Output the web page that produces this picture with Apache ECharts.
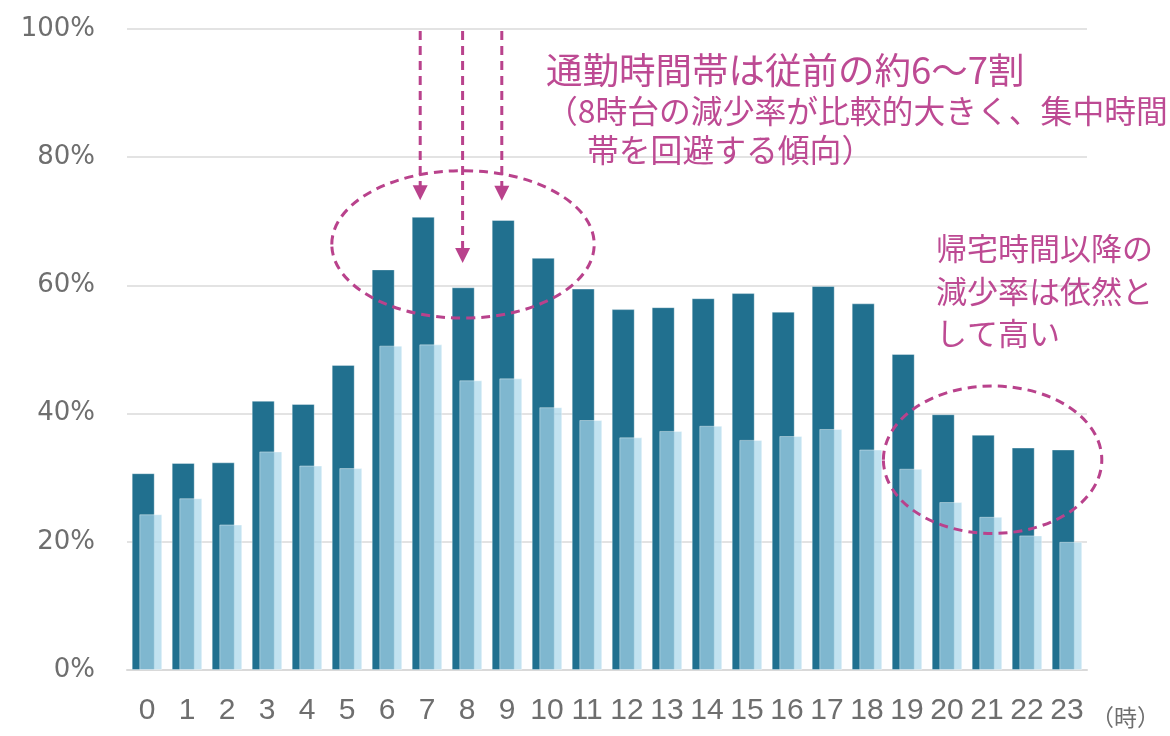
<!DOCTYPE html>
<html>
<head>
<meta charset="utf-8">
<script src="https://cdn.jsdelivr.net/npm/echarts@6/dist/echarts.min.js"></script>
<style>
  html, body { margin: 0; padding: 0; background: #fff; }
  #main { width: 1170px; height: 736px; }
</style>
</head>
<body>
<div id="main"></div>
<script>
var hours = ['0','1','2','3','4','5','6','7','8','9','10','11','12','13','14','15','16','17','18','19','20','21','22','23'];
var darkRate = [30.7, 32.3, 32.4, 42.0, 41.5, 47.6, 62.5, 70.7, 59.7, 70.2, 64.3, 59.5, 56.3, 56.6, 58.0, 58.8, 55.9, 59.9, 57.2, 49.3, 39.9, 36.7, 34.7, 34.4];
var lightRate = [24.3, 26.8, 22.7, 34.1, 31.9, 31.5, 50.6, 50.8, 45.2, 45.5, 41.0, 39.0, 36.3, 37.3, 38.1, 35.9, 36.5, 37.6, 34.4, 31.4, 26.2, 23.9, 21.0, 20.0];
var yTicks = [0, 20, 40, 60, 80, 100];

// annotation anchors (category index, value %)
var arrowCats = [6.83, 7.89, 8.87];
var arrowTips = [73.3, 63.5, 73.2];
var arrowStart = 99.7;

var pink = '#b9428c';
var textPink = '#bd4a93';
var jp = '"Noto Sans CJK JP", sans-serif';

var dom = document.getElementById('main');
var myChart = echarts.init(dom);

var option = {
    animation: false,
    grid: {
        left: 127,
        right: 83,
        top: 29,
        bottom: 66
    },
    xAxis: {
        type: 'category',
        data: hours,
        name: '（時）',
        nameLocation: 'end',
        nameGap: 4,
        nameTextStyle: {
            color: '#6e6e6e',
            fontSize: 23,
            fontFamily: jp,
            align: 'left',
            verticalAlign: 'top',
            padding: [36, 0, 0, 0]
        },
        axisTick: { show: false },
        axisLine: { lineStyle: { color: '#d9d9d9', width: 2 } },
        axisLabel: {
            interval: 0,
            margin: 26,
            color: '#6e6e6e',
            fontSize: 30,
            fontFamily: '"Liberation Sans Narrow", "Liberation Sans", sans-serif'
        }
    },
    yAxis: {
        type: 'value',
        min: yTicks[0],
        max: yTicks[yTicks.length - 1],
        interval: 20,
        axisLine: { show: false },
        axisTick: { show: false },
        splitLine: { lineStyle: { color: '#e3e3e3', width: 2 } },
        axisLabel: {
            formatter: '{value}%',
            margin: 32,
            color: '#6e6e6e',
            fontSize: 26,
            fontFamily: '"DejaVu Sans", sans-serif'
        }
    },
    series: [
        {
            name: 'dark',
            type: 'bar',
            data: darkRate,
            barWidth: 23,
            barGap: '-67%',
            itemStyle: {
                color: '#21708f',
                borderColor: 'rgba(255,255,255,0.35)',
                borderWidth: 1
            }
        },
        {
            name: 'light',
            type: 'bar',
            data: lightRate,
            barWidth: 23,
            itemStyle: {
                color: 'rgba(168,214,234,0.7)',
                borderColor: 'rgba(255,255,255,0.4)',
                borderWidth: 1
            }
        }
    ]
};

myChart.setOption(option);

// pixel helpers from the chart's own scales
var p0 = myChart.convertToPixel({ gridIndex: 0 }, [0, 0]);
var p1 = myChart.convertToPixel({ gridIndex: 0 }, [1, 100]);
var catW = p1[0] - p0[0];
var pxPct = (p0[1] - p1[1]) / 100;
function px(cat, val) {
    return [p0[0] + cat * catW, p0[1] - val * pxPct];
}

var graphics = [];
var dash = { stroke: pink, lineWidth: 3, lineDash: [9, 6] };

// dashed arrows
for (var i = 0; i < arrowCats.length; i++) {
    var from = px(arrowCats[i], arrowStart);
    var tip = px(arrowCats[i], arrowTips[i]);
    graphics.push({
        type: 'line',
        shape: { x1: from[0], y1: from[1], x2: tip[0], y2: tip[1] - 14 },
        style: dash,
        z: 10
    });
    graphics.push({
        type: 'polygon',
        shape: { points: [[tip[0] - 7.5, tip[1] - 15], [tip[0] + 7.5, tip[1] - 15], [tip[0], tip[1]]] },
        style: { fill: pink },
        z: 10
    });
}

// dashed ellipses
var e1 = px(7.9, 66.4);
graphics.push({
    type: 'ellipse',
    shape: { cx: e1[0], cy: e1[1], rx: 3.28 * catW, ry: 11.5 * pxPct },
    style: { fill: 'none', stroke: pink, lineWidth: 3, lineDash: [9, 6] },
    z: 10
});
var e2 = px(21.14, 32.8);
graphics.push({
    type: 'ellipse',
    shape: { cx: e2[0], cy: e2[1], rx: 2.73 * catW, ry: 11.5 * pxPct },
    style: { fill: 'none', stroke: pink, lineWidth: 3, lineDash: [9, 6] },
    z: 10
});

// annotation text
var notes = [
    { text: '通勤時間帯は従前の約6～7割', x: 546, y: 70, size: 36.5 },
    { text: '（8時台の減少率が比較的大きく、集中時間', x: 546, y: 111, size: 31.8 },
    { text: '帯を回避する傾向）', x: 587, y: 150, size: 31.8 },
    { text: '帰宅時間以降の', x: 936, y: 248, size: 31 },
    { text: '減少率は依然と', x: 936, y: 291, size: 31 },
    { text: 'して高い', x: 936, y: 333, size: 31 }
];
notes.forEach(function (n) {
    graphics.push({
        type: 'text',
        x: n.x,
        y: n.y,
        style: {
            text: n.text,
            fill: textPink,
            font: n.size + 'px ' + jp,
            verticalAlign: 'middle',
            align: 'left'
        },
        z: 11
    });
});

myChart.setOption({ graphic: graphics });
</script>
</body>
</html>
